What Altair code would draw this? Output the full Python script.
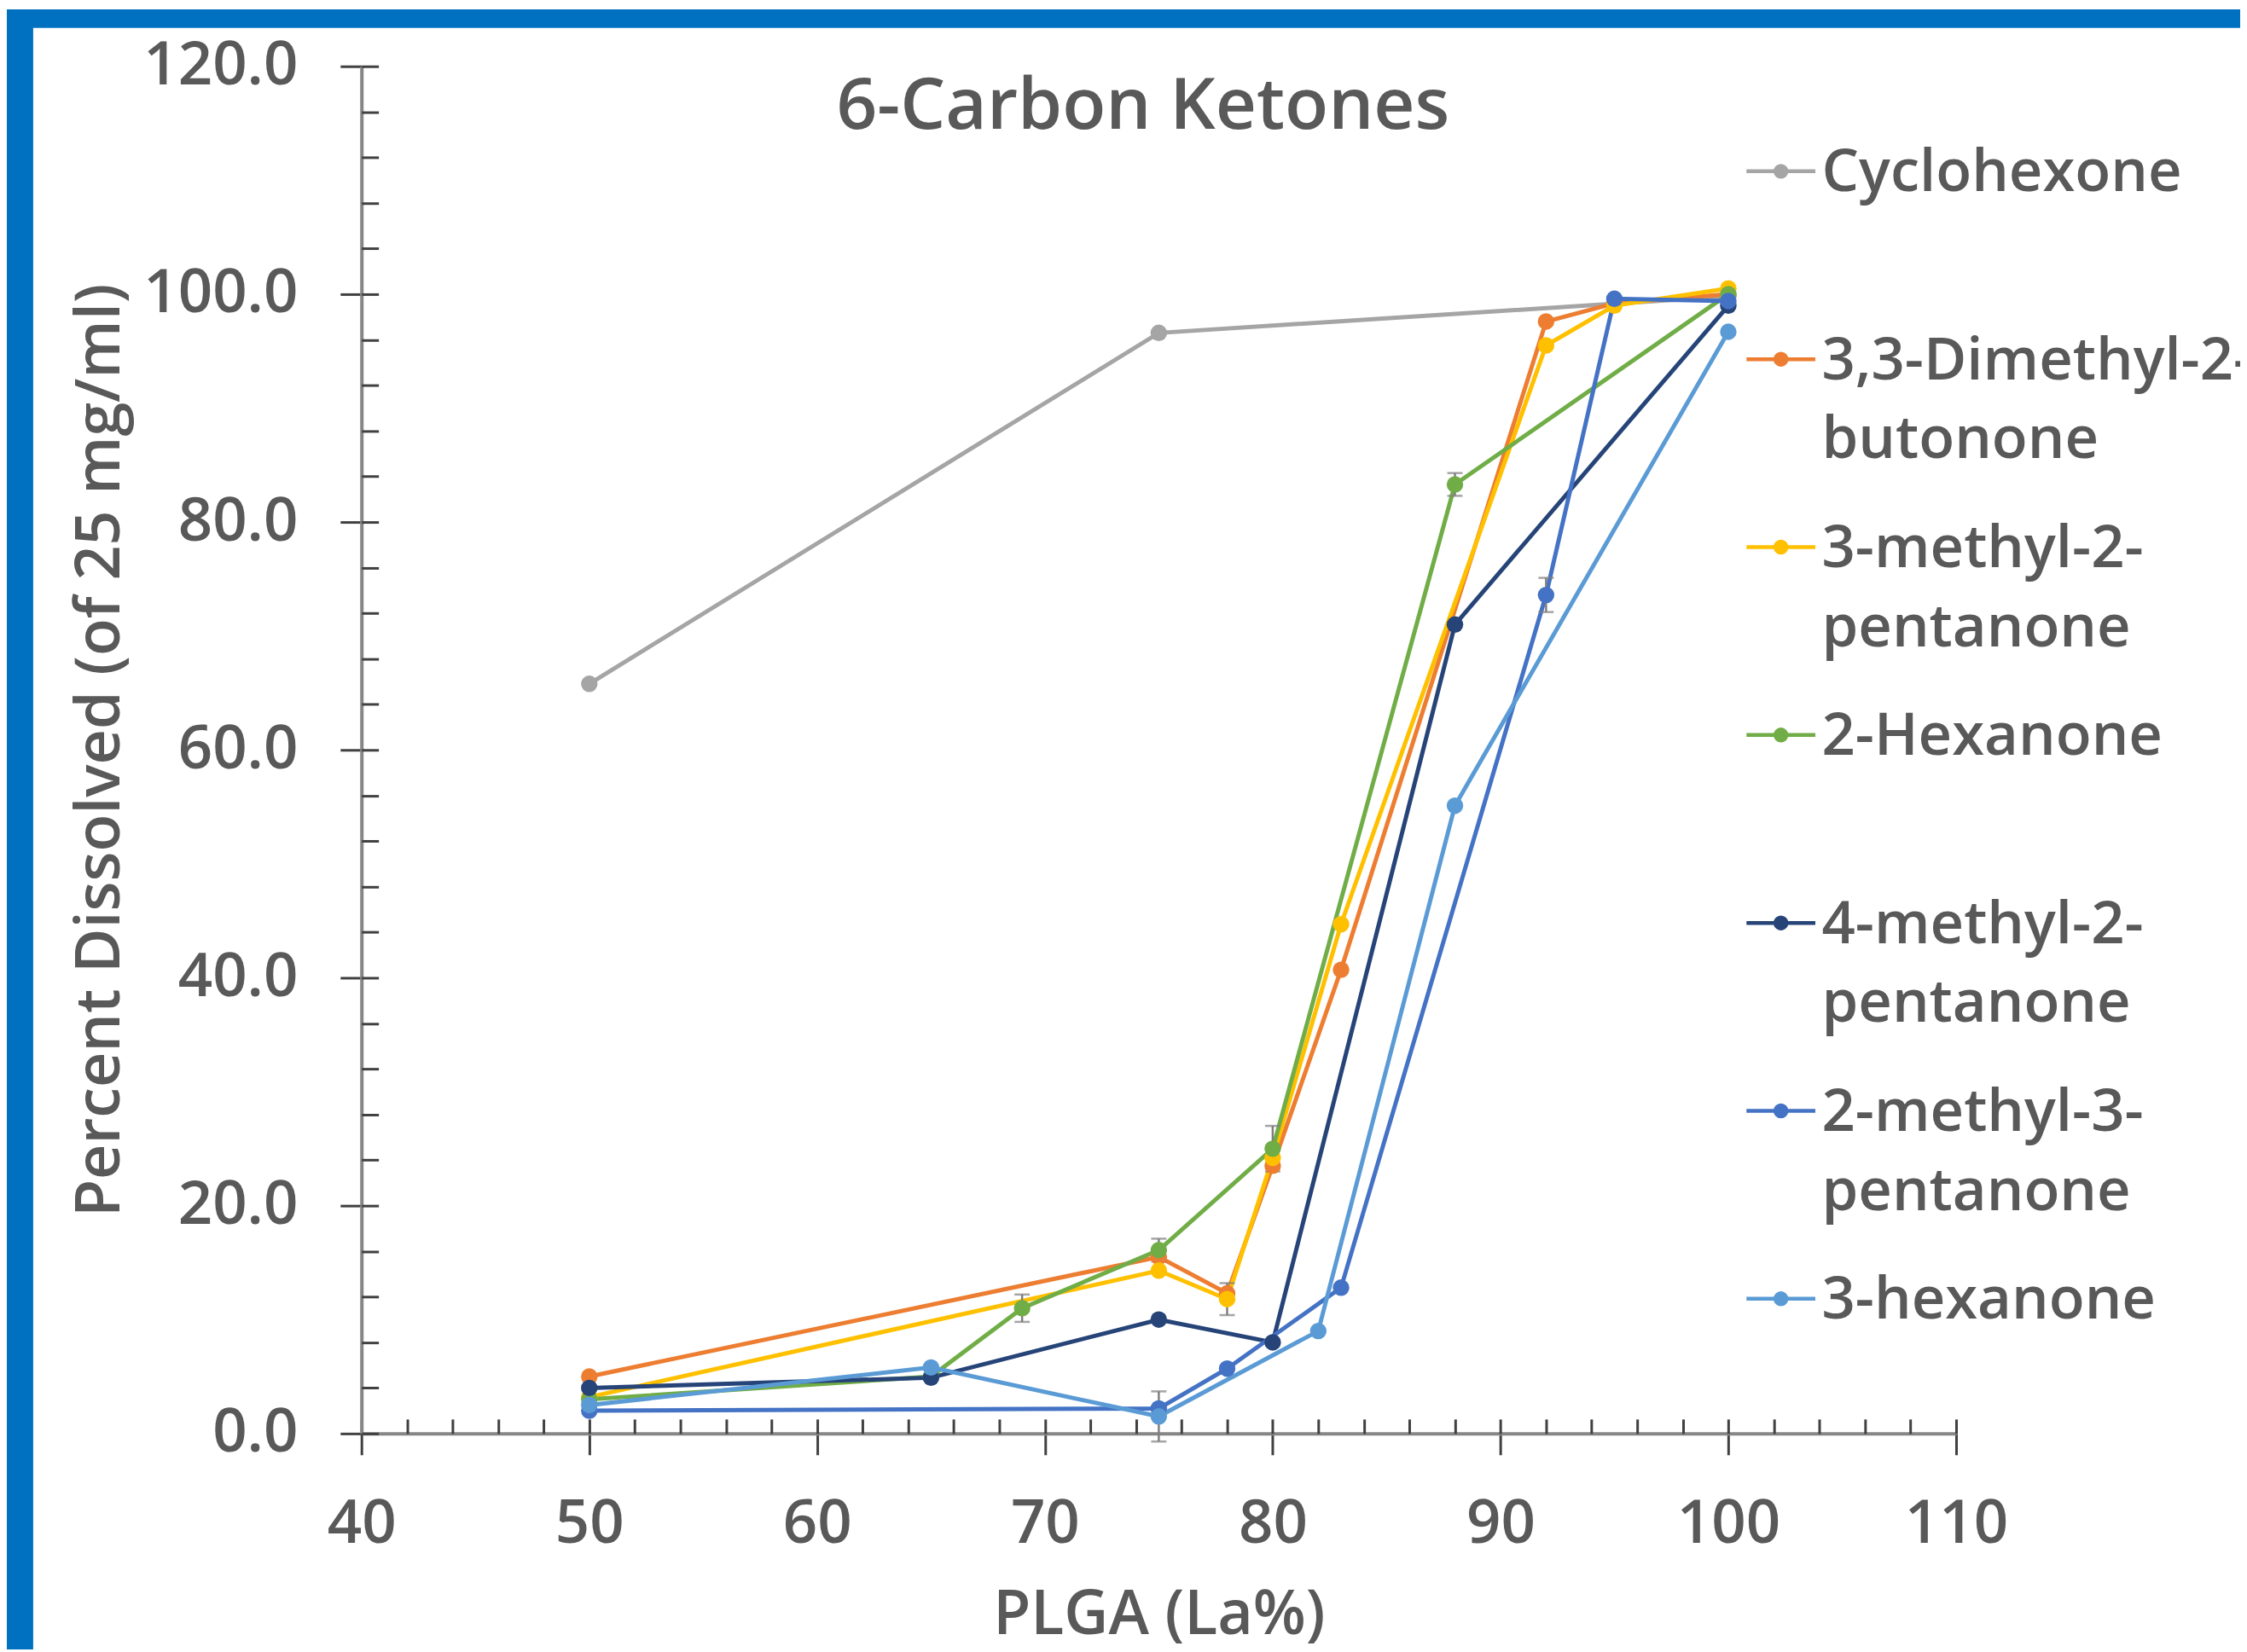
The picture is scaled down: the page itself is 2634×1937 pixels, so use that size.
import altair as alt
import pandas as pd

# ---------------- data ----------------
TITLE = "6-Carbon Ketones"
X_TITLE = "PLGA (La%)"
Y_TITLE = "Percent Dissolved (of 25 mg/ml)"

SERIES = [
    "Cyclohexone",
    "3,3-Dimethyl-2-butonone",
    "3-methyl-2-pentanone",
    "2-Hexanone",
    "4-methyl-2-pentanone",
    "2-methyl-3-pentanone",
    "3-hexanone",
]
LEGEND_LINES = [
    ["Cyclohexone", " "],
    ["3,3-Dimethyl-2-", "butonone"],
    ["3-methyl-2-", "pentanone"],
    ["2-Hexanone", " "],
    ["4-methyl-2-", "pentanone"],
    ["2-methyl-3-", "pentanone"],
    ["3-hexanone", " "],
]

CYC_X = [50, 75, 100]
CYC_Y = [65.8, 96.6, 99.8]
CYC_E = [0, 0, 0]

DMB_X = [50, 75, 78, 80, 83, 92, 95, 100]
DMB_Y = [5.0, 15.5, 12.3, 23.5, 40.7, 97.6, 99.2, 100.0]
DMB_E = [0, 0, 0, 0, 0, 0, 0, 0]

M2P_X = [50, 75, 78, 80, 83, 92, 95, 100]
M2P_Y = [3.2, 14.3, 11.8, 24.2, 44.7, 95.5, 99.0, 100.5]
M2P_E = [0, 0, 1.4, 0, 0, 0, 0, 0]

HEX2_X = [50, 65, 69, 75, 80, 88, 100]
HEX2_Y = [3.0, 5.0, 11.0, 16.1, 25.0, 83.3, 100.0]
HEX2_E = [0, 0, 1.2, 1.0, 2.0, 1.0, 0]

M4P_X = [50, 65, 75, 80, 88, 100]
M4P_Y = [4.0, 4.9, 10.0, 8.0, 71.0, 99.0]
M4P_E = [0, 0, 0, 0, 0, 0]

M23_X = [50, 75, 78, 83, 92, 95, 100]
M23_Y = [2.0, 2.2, 5.7, 12.8, 73.6, 99.6, 99.4]
M23_E = [0, 0, 0, 0, 1.5, 0, 0]

HEX3_X = [50, 65, 75, 82, 88, 100]
HEX3_Y = [2.5, 5.8, 1.5, 9.0, 55.1, 96.7]
HEX3_E = [0, 0, 2.2, 0, 0, 0]

X_TICKS = list(range(40, 111, 10))
Y_TICKS = list(range(0, 121, 20))
X_MINOR = list(range(40, 111, 2))
Y_MINOR = list(range(0, 121, 4))

# ---------------- styles ----------------
COLORS = ["#A5A5A5", "#ED7D31", "#FFC000", "#70AD47", "#264478", "#4472C4", "#5B9BD5"]
TEXT = "#595959"
FONT = "Open Sans"
FRAME = "#0070C0"
ERR = "#7F7F7F"

W, H = 1875, 1608
PAD = {"left": 417, "top": 67, "right": 334, "bottom": 254}

rows = []
for name, xs_, ys_, es_ in zip(
    SERIES,
    [CYC_X, DMB_X, M2P_X, HEX2_X, M4P_X, M23_X, HEX3_X],
    [CYC_Y, DMB_Y, M2P_Y, HEX2_Y, M4P_Y, M23_Y, HEX3_Y],
    [CYC_E, DMB_E, M2P_E, HEX2_E, M4P_E, M23_E, HEX3_E],
):
    for x, y, e in zip(xs_, ys_, es_):
        rows.append({"series": name, "x": x, "y": y, "err": e, "lo": y - e, "hi": y + e})
df = pd.DataFrame(rows)
err_df = df[df["err"] > 0]

# legend label expression (multi-line labels)
expr = "[datum.label, ' ']"
for name, lines in reversed(list(zip(SERIES, LEGEND_LINES))):
    arr = "[" + ", ".join("'" + s + "'" for s in lines) + "]"
    expr = f"datum.label == '{name}' ? {arr} : ({expr})"

# legend symbol: a short line with a dot
UNIT = 40.5
DY = -2.5 / UNIT
sym = f"M-1,{DY:.4f}L1,{DY:.4f}"
for rpx in (1.5, 4.0, 6.5):
    r = rpx / UNIT
    sym += f"M{-r:.4f},{DY:.4f}A{r:.4f},{r:.4f},0,1,0,{r:.4f},{DY:.4f}A{r:.4f},{r:.4f},0,1,0,{-r:.4f},{DY:.4f}"

xs = alt.Scale(domain=[40, 110], nice=False, zero=False)
ys = alt.Scale(domain=[0, 120], nice=False, zero=False)

lab = dict(labelFont=FONT, labelFontSize=71, labelFontWeight=600, labelColor=TEXT, labelLimit=600,
           titleFont=FONT, titleFontSize=72, titleFontWeight=600, titleColor=TEXT, titleLimit=3000)

x_main = alt.Axis(orient="bottom", values=X_TICKS, tickSize=25, tickWidth=3, tickColor="#404040",
                  domainColor="#868686", domainWidth=4, labelPadding=47, grid=False,
                  labelFlush=False, labelOverlap=False, title=X_TITLE, titlePadding=36, **lab)
y_main = alt.Axis(orient="left", values=Y_TICKS, format=".1f", tickSize=25, tickWidth=3,
                  tickColor="#404040", domainColor="#868686", domainWidth=4, labelPadding=50,
                  grid=False, labelFlush=False, labelOverlap=False, title=Y_TITLE,
                  titlePadding=70, **lab)
x_minor = alt.Axis(orient="top", offset=-H, values=X_MINOR, tickSize=17, tickWidth=3,
                   tickColor="#404040", domain=False, labels=False, grid=False, title=None)
y_minor = alt.Axis(orient="right", offset=-W, values=Y_MINOR, tickSize=20, tickWidth=3,
                   tickColor="#404040", domain=False, labels=False, grid=False, title=None)

legend = alt.Legend(orient="none", legendX=1626, legendY=83, title=None, direction="vertical",
                    symbolType=sym, symbolSize=UNIT * UNIT * 4, symbolStrokeWidth=4.5,
                    symbolOpacity=1, labelExpr=expr, labelFont=FONT, labelFontSize=69,
                    labelFontWeight=600, labelColor=TEXT, labelLimit=2000, labelOffset=5,
                    labelBaseline="middle", rowPadding=50, padding=0)

one = pd.DataFrame({"t": [TITLE]})
band_top = alt.Chart(one).mark_rect(color=FRAME).encode(
    x=alt.value(-PAD["left"]), x2=alt.value(W + PAD["right"]), y=alt.value(-PAD["top"]), y2=alt.value(-45))
band_left = alt.Chart(one).mark_rect(color=FRAME).encode(
    x=alt.value(-PAD["left"]), x2=alt.value(-386), y=alt.value(-PAD["top"]), y2=alt.value(H + PAD["bottom"]))

lines = alt.Chart(df).mark_line(strokeWidth=5).encode(
    x=alt.X("x:Q", scale=xs, axis=x_main),
    y=alt.Y("y:Q", scale=ys, axis=y_main),
    color=alt.Color("series:N", scale=alt.Scale(domain=SERIES, range=COLORS), legend=legend),
)

rules = alt.Chart(err_df).mark_rule(color=ERR, strokeWidth=2.5).encode(
    x=alt.X("x:Q", scale=xs, axis=None),
    y=alt.Y("lo:Q", scale=ys, axis=None),
    y2="hi:Q",
)
cap_lo = alt.Chart(err_df).mark_tick(orient="horizontal", size=18, thickness=2.5, color=ERR).encode(
    x=alt.X("x:Q", scale=xs, axis=None), y=alt.Y("lo:Q", scale=ys, axis=None))
cap_hi = alt.Chart(err_df).mark_tick(orient="horizontal", size=18, thickness=2.5, color=ERR).encode(
    x=alt.X("x:Q", scale=xs, axis=None), y=alt.Y("hi:Q", scale=ys, axis=None))

points = alt.Chart(df).mark_circle(size=380, opacity=1).encode(
    x=alt.X("x:Q", scale=xs, axis=x_minor),
    y=alt.Y("y:Q", scale=ys, axis=y_minor),
    fill=alt.Fill("series:N", scale=alt.Scale(domain=SERIES, range=COLORS), legend=None),
)

title = alt.Chart(one).mark_text(font=FONT, fontSize=84, fontWeight=600, color=TEXT,
                                 align="center", baseline="alphabetic").encode(
    text="t:N", x=alt.value(919), y=alt.value(73))

chart = (
    alt.layer(band_top, band_left, lines, rules, cap_lo, cap_hi, points, title)
    .resolve_scale(x="independent", y="independent")
    .properties(width=W, height=H, padding=PAD, autosize=alt.AutoSizeParams(type="none"),
                background="white")
    .configure(style={"guide-label": {"lineHeight": 93}})
    .configure_view(strokeWidth=0)
)

chart.save("out.html", embed_options={"renderer": "svg", "actions": False})
